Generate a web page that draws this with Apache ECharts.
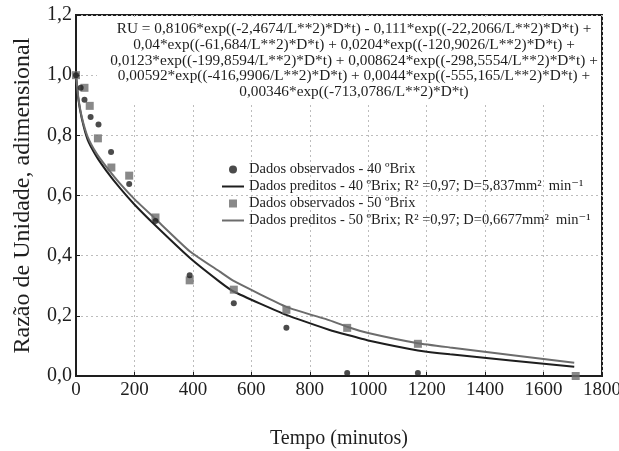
<!DOCTYPE html>
<html><head><meta charset="utf-8">
<script src="https://cdn.jsdelivr.net/npm/echarts@6/dist/echarts.min.js"></script>
<style>html,body{margin:0;padding:0;background:#fff}#c{width:619px;height:451px}</style>
</head><body><div id="c"></div>
<script>
// Observed data, 40 ºBrix
const obs40X = [0, 16, 29, 50, 77, 120, 182, 272, 389, 540, 720, 928, 1170];
const obs40Y = [1.0, 0.958, 0.918, 0.861, 0.836, 0.745, 0.638, 0.515, 0.335, 0.242, 0.160, 0.010, 0.010];
// Observed data, 50 ºBrix
const obs50X = [0, 29, 47, 75, 121, 182, 272, 389, 540, 720, 928, 1170, 1710];
const obs50Y = [1.0, 0.958, 0.898, 0.790, 0.693, 0.666, 0.527, 0.318, 0.287, 0.220, 0.160, 0.107, 0.0];
// Predicted curves
const pred40X = [0, 8, 20, 40, 70, 104, 150, 200, 272, 389, 492, 541, 720, 868, 930, 1000, 1170, 1280, 1705];
const pred40Y = [1.0, 0.92, 0.855, 0.785, 0.73, 0.682, 0.625, 0.57, 0.50, 0.393, 0.313, 0.28, 0.203, 0.153, 0.136, 0.118, 0.085, 0.072, 0.031];
const pred50X = [0, 8, 20, 40, 70, 104, 150, 200, 272, 389, 492, 541, 720, 868, 930, 1000, 1170, 1280, 1705];
const pred50Y = [1.0, 0.925, 0.86, 0.795, 0.74, 0.695, 0.64, 0.588, 0.522, 0.415, 0.347, 0.315, 0.23, 0.185, 0.163, 0.143, 0.109, 0.095, 0.044];

const names = [
  'Dados observados - 40 ºBrix',
  'Dados preditos - 40 ºBrix; R² =0,97; D=5,837mm²  min⁻¹',
  'Dados observados - 50 ºBrix',
  'Dados preditos - 50 ºBrix; R² =0,97; D=0,6677mm²  min⁻¹'
];
const equation = [
  'RU = 0,8106*exp((-2,4674/L**2)*D*t) - 0,111*exp((-22,2066/L**2)*D*t) +',
  '0,04*exp((-61,684/L**2)*D*t) + 0,0204*exp((-120,9026/L**2)*D*t) +',
  '0,0123*exp((-199,8594/L**2)*D*t) + 0,008624*exp((-298,5554/L**2)*D*t) +',
  '0,00592*exp((-416,9906/L**2)*D*t) + 0,0044*exp((-555,165/L**2)*D*t) +',
  '0,00346*exp((-713,0786/L**2)*D*t)'
];
const zip = (a, b) => a.map((v, i) => [v, b[i]]);
const FONT = '"Liberation Serif", "DejaVu Serif", serif';
const DARK = '#1e1e1e', GRAY = '#6c6c6c';

const chart = echarts.init(document.getElementById('c'));
chart.setOption({
  animation: false,
  backgroundColor: '#fff',
  grid: { left: 76, right: 17, top: 15, bottom: 75, outerBoundsMode: 'none', containLabel: false,
    show: true, borderColor: DARK, borderWidth: 2, backgroundColor: 'transparent' },
  xAxis: {
    type: 'value', min: 0, max: 1800, interval: 200,
    name: 'Tempo (minutos)', nameLocation: 'middle', nameGap: 53,
    nameTextStyle: { fontFamily: FONT, fontSize: 20, color: DARK },
    axisLine: { lineStyle: { color: DARK, width: 2 } },
    axisTick: { inside: true, length: 4, lineStyle: { color: DARK } },
    axisLabel: { fontFamily: FONT, fontSize: 19, color: DARK, margin: 5, formatter: v => String(v) },
    splitLine: { show: true, lineStyle: { color: '#bdbdbd', type: [2, 3], width: 1 } }
  },
  yAxis: {
    type: 'value', min: 0, max: 1.2, interval: 0.2,
    name: 'Razão de Unidade, adimensional', nameLocation: 'middle', nameGap: 41,
    nameTextStyle: { fontFamily: FONT, fontSize: 24, color: DARK },
    axisLine: { lineStyle: { color: DARK, width: 2 } },
    axisTick: { inside: true, length: 4, lineStyle: { color: DARK } },
    axisLabel: { fontFamily: FONT, fontSize: 20, color: DARK, margin: 4,
      formatter: v => v.toFixed(1).replace('.', ',') },
    splitLine: { show: true, lineStyle: { color: '#bdbdbd', type: [2, 3], width: 1 } }
  },
  legend: {
    orient: 'vertical', left: 216, top: 157, itemWidth: 22, itemHeight: 8, itemGap: 2,
    textStyle: { fontFamily: FONT, fontSize: 14.5, color: DARK },
    data: [
      { name: names[0], icon: 'circle' },
      { name: names[1], itemStyle: { opacity: 0 } },
      { name: names[2], icon: 'path://M0,0H10V10H0Z' },
      { name: names[3], itemStyle: { opacity: 0 } }
    ]
  },
  graphic: [
    { type: 'rect', left: 97, top: 17, z: 1, shape: { width: 503, height: 87 }, style: { fill: '#fff' } },
    { type: 'text', x: 354, y: 21, z: 2, style: {
        text: equation.join('\n'), font: '15.3px ' + FONT, fill: DARK,
        textAlign: 'center', lineHeight: 15.8 } }
  ],
  series: [
    { name: names[1], type: 'line', data: zip(pred40X, pred40Y), symbol: 'none', smooth: 0.15, z: 3,
      lineStyle: { color: DARK, width: 2 }, itemStyle: { color: DARK } },
    { name: names[3], type: 'line', data: zip(pred50X, pred50Y), symbol: 'none', smooth: 0.15, z: 3,
      lineStyle: { color: GRAY, width: 2 }, itemStyle: { color: GRAY } },
    { name: names[0], type: 'scatter', data: zip(obs40X, obs40Y), symbol: 'circle', symbolSize: 6, z: 5,
      itemStyle: { color: DARK } },
    { name: names[2], type: 'scatter', data: zip(obs50X, obs50Y), symbol: 'rect', symbolSize: 8, z: 4,
      itemStyle: { color: GRAY } }
  ]
});
</script></body></html>
